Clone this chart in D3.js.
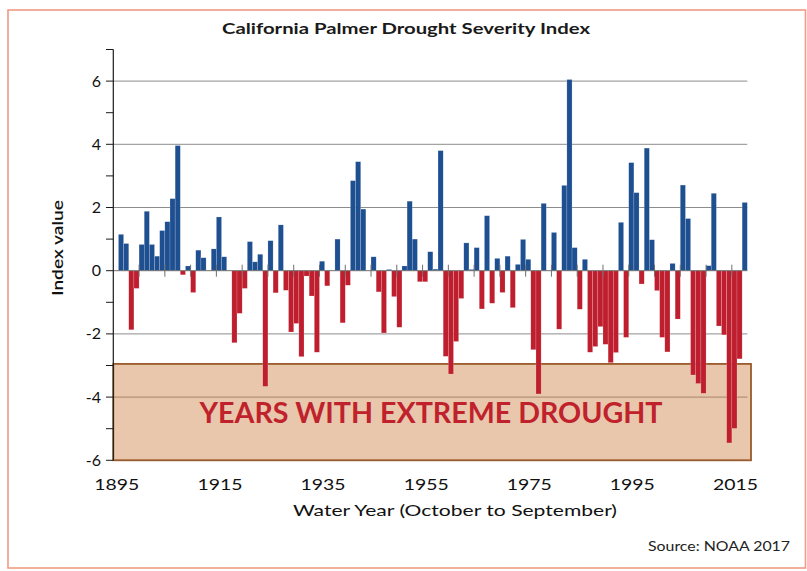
<!DOCTYPE html>
<html><head><meta charset="utf-8">
<script src="https://cdn.jsdelivr.net/npm/d3@7"></script>
<style>
body{margin:0;background:#fff}
svg{display:block}
text{font-family:Lato,"Open Sans",sans-serif}
</style>
</head><body>
<svg id="chart" width="807" height="571"></svg>
<script>
// ---- data ----
const years = [1895,1896,1897,1898,1899,1900,1901,1902,1903,1904,1905,1906,1907,1908,1909,1910,1911,1912,1913,1914,
1915,1916,1917,1918,1919,1920,1921,1922,1923,1924,1925,1926,1927,1928,1929,1930,1931,1932,1933,1934,
1935,1936,1937,1938,1939,1940,1941,1942,1943,1944,1945,1946,1947,1948,1949,1950,1951,1952,1953,1954,
1955,1956,1957,1958,1959,1960,1961,1962,1963,1964,1965,1966,1967,1968,1969,1970,1971,1972,1973,1974,
1975,1976,1977,1978,1979,1980,1981,1982,1983,1984,1985,1986,1987,1988,1989,1990,1991,1992,1993,1994,
1995,1996,1997,1998,1999,2000,2001,2002,2003,2004,2005,2006,2007,2008,2009,2010,2011,2012,2013,2014,
2015,2016,2017];
const pdsi = [0,1.15,0.86,-1.87,-0.56,0.83,1.88,0.83,0.46,1.27,1.55,2.28,3.96,-0.13,0.15,-0.69,0.65,0.41,0,0.69,
1.7,0.44,0,-2.28,-1.35,-0.56,0.92,0.28,0.52,-3.66,0.95,-0.7,1.45,-0.62,-1.94,-1.67,-2.72,-0.17,-0.8,-2.58,
0.3,-0.48,0,1.0,-1.65,-0.46,2.85,3.45,1.95,0,0.44,-0.67,-1.97,0.04,-0.82,-1.79,0.15,2.2,1.0,-0.35,
-0.35,0.6,0.05,3.8,-2.71,-3.27,-2.24,-0.88,0.88,0.04,0.73,-1.21,1.74,-1.03,0.39,-0.69,0.46,-1.17,0.2,0.99,
0.36,-2.5,-3.9,2.13,0,1.21,-1.85,2.7,6.05,0.73,-1.22,0.36,-2.58,-2.4,-1.77,-2.33,-2.91,-2.59,1.53,-2.11,
3.42,2.47,-0.42,3.88,0.98,-0.63,-2.11,-2.57,0.23,-1.53,2.71,1.65,-3.3,-3.57,-3.88,0.16,2.45,-1.75,-2.03,-5.45,
-4.99,-2.79,2.16];
const yMinorTicks = [-6,-5,-4,-3,-2,-1,0,1,2,3,4,5,6,7];
const yLabelTicks = [-6,-4,-2,0,2,4,6];
const xLabelYears = [1895,1915,1935,1955,1975,1995,2015];
const extremeThreshold = -2.95;
const titleText = "California Palmer Drought Severity Index";
const xTitle = "Water Year (October to September)";
const yTitle = "Index value";
const sourceText = "Source: NOAA 2017";
const boxText = "YEARS WITH EXTREME DROUGHT";

// ---- scales ----
const L = 113.3, R = 747.3;
const x = d3.scaleBand().domain(years).range([L, R]).padding(0);
const y = d3.scaleLinear().domain([-6, 7]).range([460.3, 49.5]);
const svg = d3.select("#chart");

function fit(sel, w){ sel.attr("textLength", w).attr("lengthAdjust","spacingAndGlyphs"); return sel; }

// outer frame
svg.append("rect").attr("x",8).attr("y",10).attr("width",797.5).attr("height",558)
  .attr("fill","none").attr("stroke","#f29a84").attr("stroke-width",1.6);

// gridlines
svg.append("g").selectAll("line").data(yLabelTicks.filter(d=>d!==0)).join("line")
  .attr("x1",L).attr("x2",R).attr("y1",d=>y(d)).attr("y2",d=>y(d))
  .attr("stroke","#8c8c8c").attr("stroke-width",1);

// extreme drought box
svg.append("rect").attr("x",L).attr("y",y(extremeThreshold))
  .attr("width",751-L).attr("height",y(-6)-y(extremeThreshold))
  .attr("fill","#c87a3a").attr("fill-opacity",0.42)
  .attr("stroke","#9b5a2b").attr("stroke-width",1.8);

// bars
svg.append("g").selectAll("rect").data(years).join("rect")
  .attr("x",d=>x(d)).attr("width",x.bandwidth())
  .attr("y",(d,i)=>pdsi[i]>=0?y(pdsi[i]):y(0))
  .attr("height",(d,i)=>Math.abs(y(pdsi[i])-y(0)))
  .attr("fill",(d,i)=>pdsi[i]>=0?"#1d4f91":"#be1e2d")
  .attr("stroke","rgba(255,255,255,0.35)").attr("stroke-width",0.5);

// box label
fit(svg.append("text").attr("x",431).attr("y",423).attr("text-anchor","middle")
  .attr("font-size",28).attr("font-weight",700).attr("fill","#c0222c").text(boxText), 463);

// zero axis line and category ticks
svg.append("line").attr("x1",L).attr("x2",R).attr("y1",y(0)).attr("y2",y(0))
  .attr("stroke","#6f6f6f").attr("stroke-width",1);
const tickYears = years.filter((d,i)=>i>0 && i%5===0);
svg.append("g").selectAll("line").data(tickYears).join("line")
  .attr("x1",d=>x(d)).attr("x2",d=>x(d)).attr("y1",y(0)-6).attr("y2",y(0)+6)
  .attr("stroke","#6f6f6f").attr("stroke-width",1);

// y axis
svg.append("line").attr("x1",L).attr("x2",L).attr("y1",y(7)).attr("y2",y(-6))
  .attr("stroke","#1a1a1a").attr("stroke-width",1.2);
svg.append("g").selectAll("line").data(yMinorTicks).join("line")
  .attr("x1",106).attr("x2",L).attr("y1",d=>y(d)).attr("y2",d=>y(d))
  .attr("stroke","#1a1a1a").attr("stroke-width",1);
svg.append("g").selectAll("text").data(yLabelTicks).join("text")
  .attr("x",101).attr("y",d=>y(d)+5.5).attr("text-anchor","end")
  .attr("font-size",16).attr("fill","#111").text(d=>d);

// x labels
svg.append("g").selectAll("text").data(xLabelYears).join("text")
  .attr("x",d=>x(d)+x.bandwidth()/2+1).attr("y",489.5).attr("text-anchor","middle")
  .attr("font-size",15.5).attr("fill","#111").text(d=>d)
  .attr("textLength",45).attr("lengthAdjust","spacingAndGlyphs");

// titles
fit(svg.append("text").attr("x",406).attr("y",33.5).attr("text-anchor","middle")
  .attr("font-size",15).attr("font-weight",700).attr("fill","#1a1a1a").text(titleText), 368);
fit(svg.append("text").attr("x",455).attr("y",515.5).attr("text-anchor","middle")
  .attr("font-size",15).attr("fill","#111").text(xTitle), 324);
fit(svg.append("text").attr("transform","translate(63,248) rotate(-90)").attr("text-anchor","middle")
  .attr("font-size",15.5).attr("font-weight",600).attr("fill","#111").text(yTitle), 96);
fit(svg.append("text").attr("x",790).attr("y",551).attr("text-anchor","end")
  .attr("font-size",12.5).attr("fill","#222").text(sourceText), 142);
</script>
</body></html>
